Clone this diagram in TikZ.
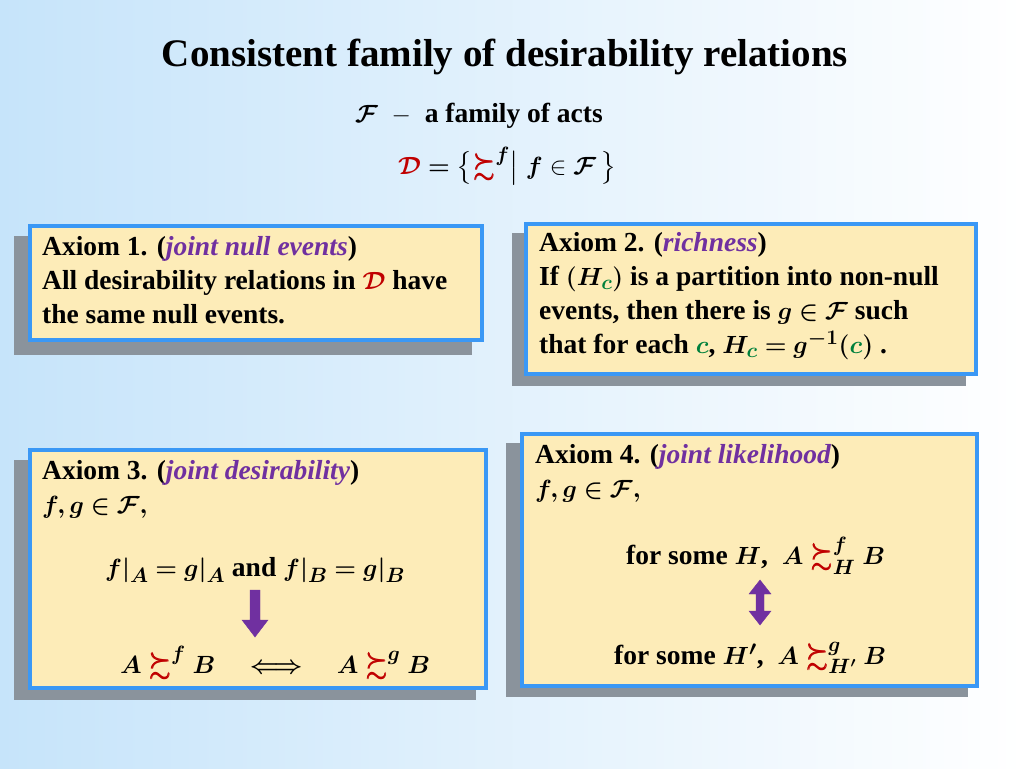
\documentclass[tikz,border=0pt]{standalone}
\usepackage{amsmath,amssymb,bm}
\usepackage{fontspec}
\setmainfont{Liberation Serif}
\definecolor{bord}{HTML}{3A98F5}
\definecolor{boxf}{HTML}{FDECB8}
\definecolor{shad}{HTML}{8A939C}
\definecolor{pur}{HTML}{7030A0}
\definecolor{rd}{HTML}{C00000}
\definecolor{gr}{HTML}{00803C}
\definecolor{bgl}{HTML}{C6E4FA}
\begin{document}
\begin{tikzpicture}[x=1pt,y=-1pt,
  txt/.style={anchor=west,font=\fontsize{27.5}{34}\selectfont\bfseries,inner sep=0pt,align=left},
  ax/.style={draw=bord,line width=4pt,fill=boxf},
  sh/.style={fill=shad,draw=none},
  pa/.style={draw=pur,fill=pur}]
\shade[left color=bgl,right color=white] (0,0) rectangle (1024,768);
\useasboundingbox (0,0) rectangle (1024,768);
\newcommand{\ms}[1]{\boldsymbol{#1}}
\newcommand{\sg}{\mathrel{\textcolor{rd}{\ms{\succsim}}}}
\node[font=\fontsize{39}{44}\selectfont\bfseries] (title) at (505,57) {Consistent family of desirability relations};
\node[txt] (fam) at (355,116) {$\ms{\mathcal F}$ \ $-$\ \ a family of acts};
\node[txt] (dset) at (398,166) {$\textcolor{rd}{\ms{\mathcal D}}\ms{=}\bigl\{\sg^{\ms f}\bigm|\ms{f}\in\ms{\mathcal F}\,\bigr\}$};
% shadows
\fill[sh] (14,236) rectangle (472,355);
\fill[sh] (512,233) rectangle (966,386);
\fill[sh] (14,460) rectangle (476,700);
\fill[sh] (506,443) rectangle (968,697);
% boxes
\path[ax] (30,226) rectangle (482,340);
\path[ax] (526,224) rectangle (976,374);
\path[ax] (30,450) rectangle (486,688);
\path[ax] (522,434) rectangle (977,686);
\node[txt,anchor=north west] (a1) at (42,236) {Axiom 1. (\textcolor{pur}{\itshape joint null events})\\All desirability relations in $\textcolor{rd}{\ms{\mathcal D}}$ have\\the same null events.};
\node[txt,anchor=north west] (a2) at (539,232) {Axiom 2. (\textcolor{pur}{\itshape richness})\\If $\ms{(H_{\textcolor{gr}{c}})}$ is a partition into non-null\\events, then there is $\ms{g\in\mathcal F}$ such\\that for each $\textcolor{gr}{\ms{c}}$, $\ms{H_{\textcolor{gr}{c}}=g^{-1}(}\textcolor{gr}{\ms c}\ms)$ .};
\node[txt,anchor=north west] (a3) at (42,460) {Axiom 3. (\textcolor{pur}{\itshape joint desirability})\\$\ms{f,g\in\mathcal F,}$};
\node[txt] (c3) at (105,570) {$\ms{f|_A=g|_A}$ and $\ms{f|_B=g|_B}$};
\node[txt] (d3) at (120,663) {$\ms{A}\sg^{\ms f}\ms{B}\quad\ms{\Longleftrightarrow}\quad\ms{A}\sg^{\ms g}\ms{B}$};
\node[txt,anchor=north west] (a4) at (535,444) {Axiom 4. (\textcolor{pur}{\itshape joint likelihood})\\$\ms{f,g\in\mathcal F,}$};
\node[txt] (c4) at (626,556) {for some $\ms H$, \ $\ms A\sg^{\ms f}_{\ms H}\ms B$};
\node[txt] (d4) at (614,658) {for some $\ms{H'}$, \ $\ms A\sg^{\ms g}_{\ms{H'}}\ms B$};
% arrows
\path[pa] (250,590) -- (260,590) -- (260,620) -- (268,620) -- (255,637) -- (242,620) -- (250,620) -- cycle;
\path[pa] (760,580) -- (771,594) -- (764,594) -- (764,611) -- (771,611) -- (760,625) -- (749,611) -- (756,611) -- (756,594) -- (749,594) -- cycle;
\end{tikzpicture}
\end{document}
